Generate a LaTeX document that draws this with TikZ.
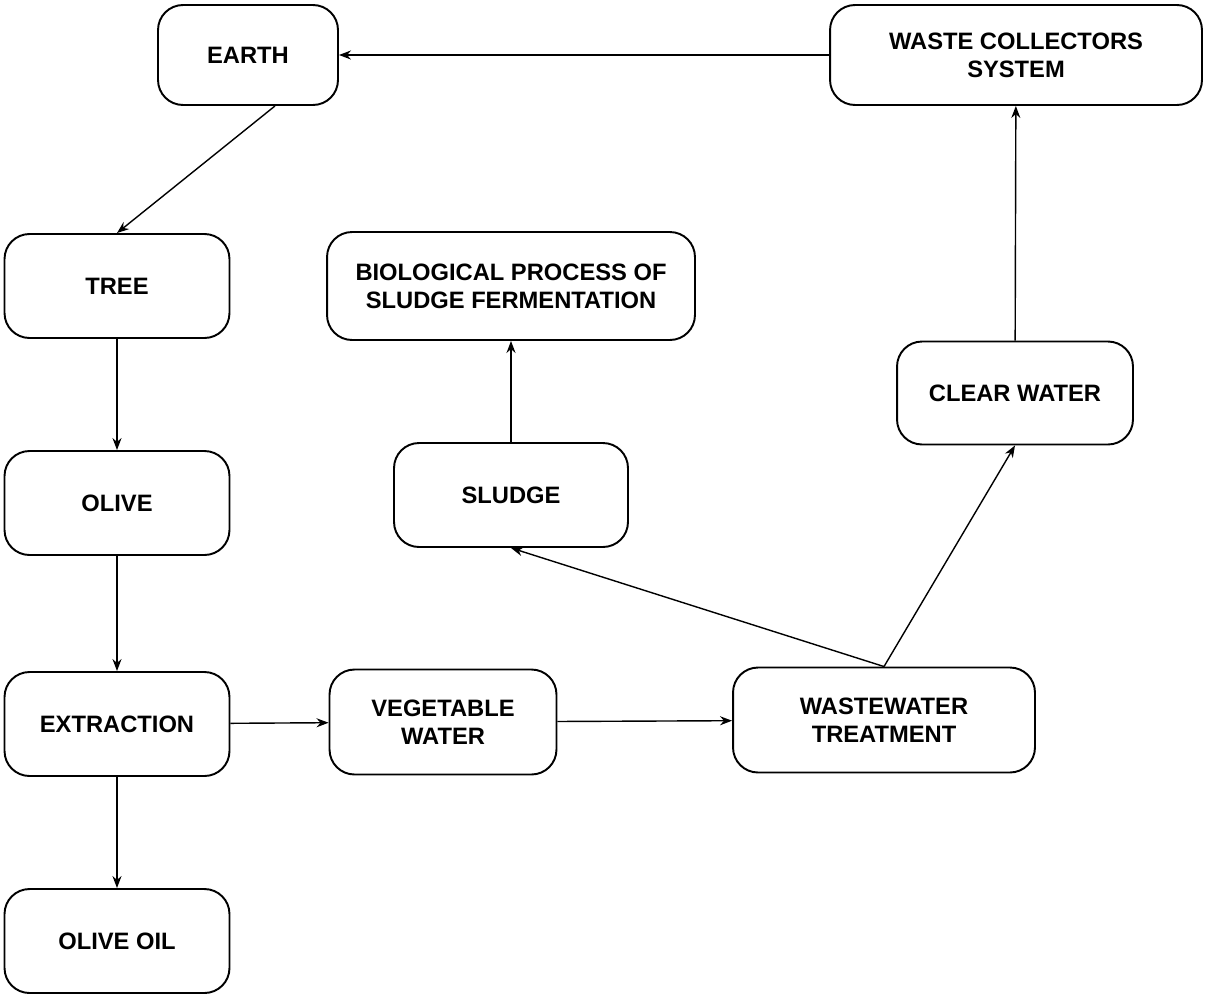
\documentclass[tikz,border=0pt]{standalone}
\usepackage{fontspec}
\setmainfont{Liberation Sans}
\usetikzlibrary{arrows.meta}
\tikzset{stage/.style={
    draw, line width=1.1pt, rounded corners=0.5cm, align=center, inner sep=0pt,
    font=\fontsize{13.5}{16}\selectfont\bfseries
}}
\tikzset{flow/.style={
    line width=0.8pt, -{Stealth[length=2.4mm,width=1.8mm]}
}}

\begin{document}
\begin{tikzpicture}[x=0.02cm,y=-0.02cm]
	    \useasboundingbox (0,0) rectangle (1206,998);
	    \node[stage, minimum width=3.6cm, minimum height=2cm] (earth) at (248,55) {EARTH};
	    \node[stage, minimum width=7.44cm, minimum height=2cm] (collectors) at (1016,55) {WASTE COLLECTORS\\SYSTEM};
	    \node[stage, minimum width=4.5cm, minimum height=2.08cm] (tree) at (117,286) {TREE};
	    \node[stage, minimum width=7.36cm, minimum height=2.16cm] (fermentation) at (511,286) {BIOLOGICAL PROCESS OF\\SLUDGE FERMENTATION};
	    \node[stage, minimum width=4.72cm, minimum height=2.06cm] (clearwater) at (1015,393) {CLEAR WATER};
	    \node[stage, minimum width=4.5cm, minimum height=2.08cm] (olive) at (117,503) {OLIVE};
	    \node[stage, minimum width=4.68cm, minimum height=2.08cm] (sludge) at (511,495) {SLUDGE};
	    \node[stage, minimum width=4.5cm, minimum height=2.08cm] (extraction) at (117,724) {EXTRACTION};
	    \node[stage, minimum width=4.54cm, minimum height=2.1cm] (vegwater) at (443,722) {VEGETABLE\\WATER};
	    \node[stage, minimum width=6.04cm, minimum height=2.1cm] (treatment) at (884,720) {WASTEWATER\\TREATMENT};
	    \node[stage, minimum width=4.5cm, minimum height=2.08cm] (oliveoil) at (117,941) {OLIVE OIL};
	    % flows
	    \draw[flow] (collectors) -- (earth);
	    \draw[flow] ([xshift=0.54cm]earth.south) -- (tree.north);
	    \draw[flow] (tree) -- (olive);
	    \draw[flow] (olive) -- (extraction);
	    \draw[flow] (extraction) -- (oliveoil);
	    \draw[flow] (extraction) -- (vegwater);
	    \draw[flow] (vegwater) -- (treatment);
	    \draw[flow] (treatment.north) -- (sludge.south);
	    \draw[flow] (treatment.north) -- (clearwater.south);
	    \draw[flow] (clearwater) -- (collectors);
	    \draw[flow] (sludge) -- (fermentation);
	\end{tikzpicture}
\end{document}
